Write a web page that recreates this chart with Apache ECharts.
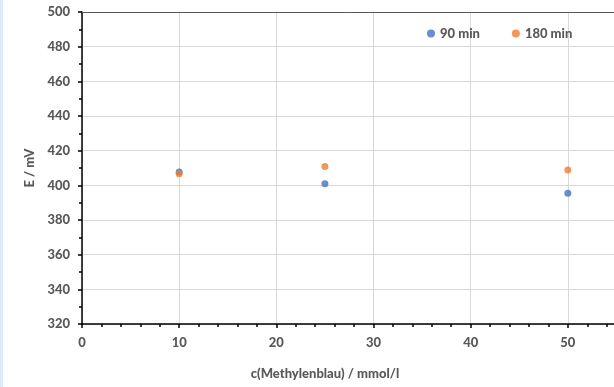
<!DOCTYPE html>
<html>
<head>
<meta charset="utf-8">
<script src="https://cdn.jsdelivr.net/npm/echarts@6/dist/echarts.min.js"></script>
<style>
  html, body { margin: 0; padding: 0; background: #fff; }
  #chart { width: 614px; height: 387px; }
</style>
</head>
<body>
<div id="chart"></div>
<script>
// Electrode potential vs. methylene blue concentration
const seriesNames = ['90 min', '180 min'];
const concentrations = [10, 25, 50];          // mmol/l
const potential90 = [407.7, 400.9, 395.4];     // mV after 90 min
const potential180 = [406.7, 410.8, 408.8];    // mV after 180 min
const colors = ['#4472C4', '#ED7D31'];

const textGray = '#595959';
const fontFamily = 'Lato';
const labelFont = { color: textGray, fontWeight: 900, fontSize: 13, fontFamily: fontFamily };

const chart = echarts.init(document.getElementById('chart'), null, { renderer: 'canvas' });

const toPairs = vals => concentrations.map((c, i) => [c, vals[i]]);

chart.setOption({
  animation: false,
  backgroundColor: '#ffffff',
  textStyle: { fontFamily: fontFamily },
  graphic: [{
    type: 'rect',
    left: 0, top: 0,
    shape: { width: 3, height: 387 },
    style: { fill: '#DCEBF8' },
    silent: true
  }],
  grid: { left: 82, top: 12, width: 583, height: 312, outerBoundsMode: 'none', containLabel: false },
  legend: {
    left: 422, top: 22,
    icon: 'circle',
    itemWidth: 8, itemHeight: 8,
    itemGap: 32,
    textStyle: labelFont,
    data: seriesNames
  },
  xAxis: [{
    type: 'value',
    min: 0, max: 60, interval: 10,
    name: 'c(Methylenblau) / mmol/l',
    nameLocation: 'middle',
    nameGap: 43,
    nameTextStyle: Object.assign({ padding: [0, 97, 0, 0] }, labelFont),
    axisLine: { show: true, onZero: false, lineStyle: { color: '#000', width: 1.5 } },
    axisTick: { show: true, length: 4, lineStyle: { color: '#000', width: 1.5 } },
    minorTick: { show: true, splitNumber: 5, length: 3, lineStyle: { color: '#000', width: 1.5 } },
    axisLabel: Object.assign({ margin: 12, showMaxLabel: false }, labelFont),
    splitLine: { show: true, lineStyle: { color: '#D9D9D9', width: 1 } }
  }, {
    type: 'value',
    position: 'top',
    min: 0, max: 60,
    axisLine: { show: true, onZero: false, lineStyle: { color: '#595959', width: 1 } },
    axisTick: { show: false },
    axisLabel: { show: false },
    splitLine: { show: false }
  }],
  yAxis: {
    type: 'value',
    min: 320, max: 500, interval: 20,
    name: 'E / mV',
    nameLocation: 'middle',
    nameGap: 45,
    nameTextStyle: labelFont,
    axisLine: { show: true, onZero: false, lineStyle: { color: '#000', width: 1.5 } },
    axisTick: { show: true, length: 4, lineStyle: { color: '#000', width: 1.5 } },
    minorTick: { show: true, splitNumber: 2, length: 3, lineStyle: { color: '#000', width: 1.5 } },
    axisLabel: Object.assign({ margin: 12 }, labelFont),
    splitLine: { show: true, lineStyle: { color: '#D9D9D9', width: 1 } }
  },
  series: [{
    name: seriesNames[0],
    type: 'scatter',
    symbol: 'circle',
    symbolSize: 7,
    itemStyle: { color: colors[0] },
    data: toPairs(potential90)
  }, {
    name: seriesNames[1],
    type: 'scatter',
    symbol: 'circle',
    symbolSize: 7,
    itemStyle: { color: colors[1] },
    data: toPairs(potential180)
  }]
});
</script>
</body>
</html>
